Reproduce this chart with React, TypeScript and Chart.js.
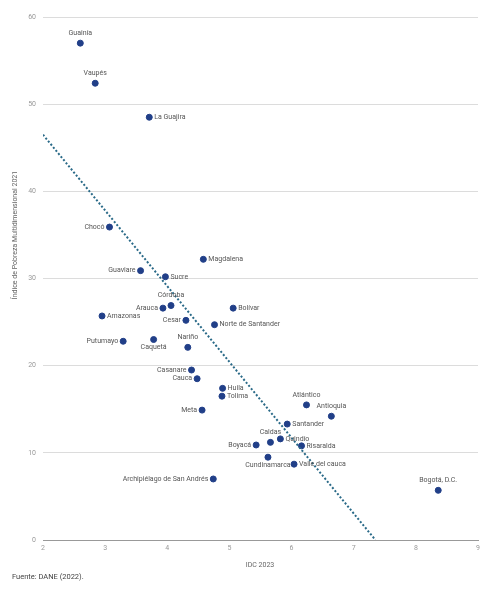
import React, { useEffect, useRef } from "react"
import { Chart, registerables } from "chart.js"

Chart.register(...registerables)

const departments = [
  "Guainía", "Vaupés", "La Guajira", "Chocó", "Magdalena", "Guaviare", "Sucre",
  "Córdoba", "Arauca", "Bolívar", "Amazonas", "Cesar", "Norte de Santander",
  "Putumayo", "Caquetá", "Nariño", "Casanare", "Cauca", "Huila", "Tolima", "Meta",
  "Atlántico", "Antioquia", "Santander", "Quindío", "Caldas", "Boyacá", "Risaralda",
  "Cundinamarca", "Valle del cauca", "Archipiélago de San Andrés", "Bogotá, D.C.",
]
const idc2023 = [
  2.6, 2.84, 3.71, 3.07, 4.58, 3.57, 3.97,
  4.06, 3.93, 5.06, 2.95, 4.3, 4.76,
  3.29, 3.78, 4.33, 4.39, 4.48, 4.89, 4.88, 4.56,
  6.24, 6.64, 5.93, 5.82, 5.66, 5.43, 6.16,
  5.62, 6.04, 4.74, 8.36,
]
const ipm2021 = [
  57.0, 52.4, 48.5, 35.9, 32.2, 30.9, 30.2,
  26.9, 26.6, 26.6, 25.7, 25.2, 24.7,
  22.8, 23.0, 22.1, 19.5, 18.5, 17.4, 16.5, 14.9,
  15.5, 14.2, 13.3, 11.6, 11.2, 10.9, 10.8,
  9.5, 8.7, 7.0, 5.7,
]
const trendX = [2, 7.35]
const trendY = [46.5, 0]

// where each department name sits relative to its dot
const labelSide: Record<string, string> = {
  "Guainía": "top", "Vaupés": "top", "Córdoba": "top", "Nariño": "top",
  "Atlántico": "top", "Antioquia": "top", "Caldas": "top", "Bogotá, D.C.": "top",
  "Caquetá": "bottom", "Cundinamarca": "bottom",
  "Chocó": "left", "Guaviare": "left", "Arauca": "left", "Cesar": "left",
  "Putumayo": "left", "Casanare": "left", "Cauca": "left", "Meta": "left",
  "Boyacá": "left", "Archipiélago de San Andrés": "left",
}

const FONT = "Roboto, 'Open Sans', sans-serif"

const labelsPlugin = {
  id: "pointLabels",
  afterDatasetsDraw(chart: Chart) {
    const ctx = chart.ctx
    const meta = chart.getDatasetMeta(1)
    ctx.save()
    ctx.font = `7px ${FONT}`
    ctx.fillStyle = "#555"
    meta.data.forEach((pt: any, i: number) => {
      const name = departments[i]
      const side = labelSide[name] || "right"
      let x = pt.x
      let y = pt.y
      if (side === "top") {
        ctx.textAlign = "center"
        ctx.textBaseline = "middle"
        y -= 10
      } else if (side === "bottom") {
        ctx.textAlign = "center"
        ctx.textBaseline = "middle"
        y += 8
      } else if (side === "left") {
        ctx.textAlign = "right"
        ctx.textBaseline = "middle"
        x -= 5
      } else {
        ctx.textAlign = "left"
        ctx.textBaseline = "middle"
        x += 5
      }
      ctx.fillText(name, x, y)
    })

    // axis titles and source note
    ctx.fillStyle = "#666"
    ctx.textAlign = "center"
    ctx.textBaseline = "middle"
    ctx.fillText("IDC 2023", 260, 565)
    ctx.save()
    ctx.translate(15, 235)
    ctx.rotate(-Math.PI / 2)
    ctx.fillText("Índice de Pobreza Multidimensional 2021", 0, 0)
    ctx.restore()
    ctx.fillStyle = "#444"
    ctx.font = `7.5px ${FONT}`
    ctx.textAlign = "left"
    ctx.fillText("Fuente: DANE (2022).", 12, 577)
    ctx.restore()
  },
}

const App: React.FC = () => {
  const chartRef = useRef<HTMLCanvasElement | null>(null)

  useEffect(() => {
    if (!chartRef.current) return
    const ctx = chartRef.current.getContext("2d")
    if (!ctx) return
    const chart = new Chart(ctx, {
      type: "scatter",
      data: {
        datasets: [
          {
            type: "line",
            label: "Tendencia",
            data: trendX.map((x, i) => ({ x, y: trendY[i] })),
            borderColor: "#2a6a88",
            borderWidth: 2,
            borderDash: [2, 2],
            pointRadius: 0,
            fill: false,
          },
          {
            label: "Departamentos",
            data: idc2023.map((x, i) => ({ x, y: ipm2021[i] })),
            backgroundColor: "#213f88",
            borderColor: "#213f88",
            pointRadius: 3,
          },
        ],
      },
      options: {
        animation: false,
        responsive: false,
        layout: { padding: { top: 17, right: 16, left: 0, bottom: 0 } },
        plugins: {
          legend: { display: false },
          tooltip: { enabled: false },
        },
        scales: {
          x: {
            type: "linear",
            min: 2,
            max: 9,
            ticks: {
              stepSize: 1,
              padding: 4,
              color: "#999",
              font: { size: 7, family: FONT },
            },
            grid: { display: false, drawTicks: false },
            border: { display: true, color: "#999", width: 1 },
            afterFit: (scale: any) => {
              scale.height = 50
            },
          },
          y: {
            min: 0,
            max: 60,
            ticks: {
              stepSize: 10,
              padding: 7,
              color: "#999",
              font: { size: 7, family: FONT },
            },
            grid: { color: "#dcdcdc", drawTicks: false },
            border: { display: false },
            afterFit: (scale: any) => {
              scale.width = 43
            },
          },
        },
      },
      plugins: [labelsPlugin],
    })
    return () => {
      chart.destroy()
    }
  }, [])

  return (
    <div style={{ position: "absolute", left: 0, top: 0, width: 494, height: 590, background: "#fff" }}>
      <canvas ref={chartRef} width={494} height={590} />
    </div>
  )
}

export default App
